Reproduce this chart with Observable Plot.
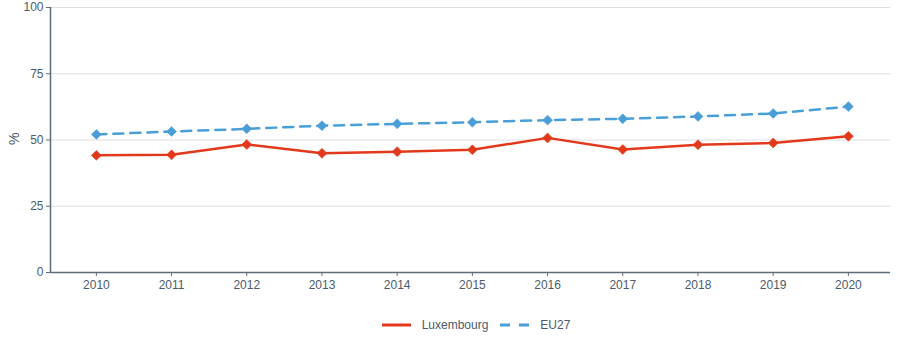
<!DOCTYPE html>
<html><head><meta charset="utf-8">
<script src="https://cdn.jsdelivr.net/npm/d3@7"></script>
<script src="https://cdn.jsdelivr.net/npm/@observablehq/plot@0.6"></script>
<style>
body{margin:0;background:#fff;font-family:"Liberation Sans",Arial,sans-serif;}
#legend{display:flex;justify-content:center;align-items:center;gap:12px;font-size:12px;color:#4b5b6b;margin-top:13px;padding-left:52px;}
#legend .item{display:flex;align-items:center;gap:11px;}
</style></head><body>
<div id="chart"></div>
<div id="legend"></div>
<script>
const years = [2010,2011,2012,2013,2014,2015,2016,2017,2018,2019,2020];
const luxembourg = [44.2,44.4,48.3,45.0,45.6,46.3,50.8,46.4,48.2,48.9,51.4];
const eu27 = [52.1,53.2,54.2,55.4,56.1,56.7,57.5,58.0,58.9,60.0,62.6];
const yTicks = [0,25,50,75,100];
const seriesNames = ["Luxembourg","EU27"];
const colors = ["#e2391c","#4a9ed8"];

const data = [];
years.forEach((y,i)=>{
  data.push({year:y, value:luxembourg[i], series:seriesNames[0]});
  data.push({year:y, value:eu27[i], series:seriesNames[1]});
});
const lux = data.filter(d=>d.series==="Luxembourg");
const eu = data.filter(d=>d.series==="EU27");

const chart = Plot.plot({
  width:900, height:305,
  marginTop:7, marginBottom:33, marginLeft:50, marginRight:10,
  style:{fontFamily:"Liberation Sans, Arial, sans-serif", fontSize:"12px", color:"#4b5b6b", background:"#fff"},
  x:{type:"linear", domain:[2009.39,2020.56], ticks:years, tickFormat:d=>String(d), label:null, tickSize:4},
  y:{domain:[0,100], ticks:yTicks, label:null, tickSize:4},
  marks:[
    Plot.gridY(yTicks.filter(t=>t>0), {stroke:"#dedede", strokeOpacity:1, strokeWidth:1}),
    Plot.axisY({ticks:yTicks, tickSize:4, tickPadding:3, stroke:"#5b6b7a", fontSize:12, color:"#4b5b6b", label:null}),
    Plot.axisX({ticks:years, tickSize:4, tickPadding:4, tickFormat:d=>String(d), stroke:"#5b6b7a", fontSize:12, label:null}),
    Plot.ruleX([2009.39], {stroke:"#5b6b7a", strokeWidth:1.5}),
    Plot.ruleY([0], {stroke:"#5b6b7a", strokeWidth:1.5}),
    Plot.text(["%"], {frameAnchor:"left", dx:-36, dy:5, rotate:-90, fontSize:14, fill:"#4b5b6b"}),
    Plot.line(lux, {x:"year", y:"value", stroke:colors[0], strokeWidth:2.5}),
    Plot.line(eu, {x:"year", y:"value", stroke:colors[1], strokeWidth:2.5, strokeDasharray:"10,7"}),
    Plot.dot(lux, {x:"year", y:"value", symbol:"diamond2", r:4.5, fill:colors[0], stroke:colors[0], strokeWidth:0.5}),
    Plot.dot(eu, {x:"year", y:"value", symbol:"diamond2", r:4.5, fill:colors[1], stroke:colors[1], strokeWidth:0.5})
  ]
});
document.getElementById("chart").appendChild(chart);

const legend = document.getElementById("legend");
seriesNames.forEach((n,i)=>{
  const item = document.createElement("div");
  item.className="item";
  const dash = i===1 ? 'stroke-dasharray="10,9"' : '';
  item.innerHTML = `<svg width="29" height="10"><line x1="0" y1="5" x2="29" y2="5" stroke="${colors[i]}" stroke-width="3" ${dash}/></svg><span>${n}</span>`;
  legend.appendChild(item);
});
</script>
</body></html>
